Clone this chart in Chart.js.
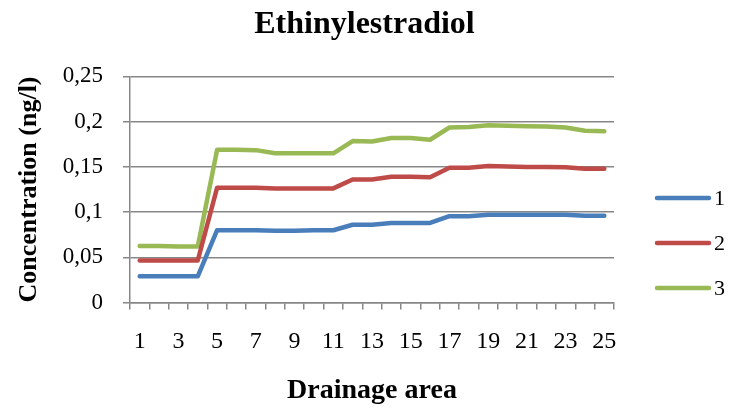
<!DOCTYPE html>
<html>
<head>
<meta charset="utf-8">
<script src="https://cdn.jsdelivr.net/npm/chart.js@4"></script>
<style>
  html, body { margin: 0; padding: 0; background: #fff; }
  #wrap { width: 729px; height: 408px; }
</style>
</head>
<body>
<div id="wrap"><canvas id="eeChart"></canvas></div>
<script>
// drainage areas 1..25
const areas = ['1','2','3','4','5','6','7','8','9','10','11','12','13','14','15','16','17','18','19','20','21','22','23','24','25'];

const series1 = [0.029, 0.029, 0.029, 0.029, 0.080, 0.080, 0.080, 0.0795, 0.0795, 0.080, 0.080, 0.086, 0.086, 0.088, 0.088, 0.088, 0.0955, 0.0955, 0.097, 0.097, 0.097, 0.097, 0.097, 0.096, 0.096];
const series2 = [0.0465, 0.0465, 0.0465, 0.0465, 0.127, 0.127, 0.127, 0.126, 0.126, 0.1262, 0.1262, 0.136, 0.136, 0.139, 0.139, 0.1385, 0.149, 0.149, 0.151, 0.1505, 0.150, 0.150, 0.1495, 0.148, 0.148];
const series3 = [0.0625, 0.0625, 0.062, 0.062, 0.169, 0.169, 0.1685, 0.165, 0.165, 0.165, 0.165, 0.1785, 0.178, 0.182, 0.182, 0.180, 0.1935, 0.194, 0.196, 0.1955, 0.195, 0.1945, 0.1935, 0.190, 0.1895];

const yTicks = ['0', '0,05', '0,1', '0,15', '0,2', '0,25'];

const serif = '"Liberation Serif", "Times New Roman", serif';
const gridGray = '#878787';

// Excel-style legend to the right of the plot: line sample + label
const sideLegend = {
    id: 'sideLegend',
    afterDraw(chart) {
        const c = chart.ctx;
        c.save();
        chart.data.datasets.forEach((ds, i) => {
            const y = 198 + i * 45;
            c.strokeStyle = ds.borderColor;
            c.lineWidth = 4.5;
            c.lineCap = 'round';
            c.beginPath();
            c.moveTo(657, y);
            c.lineTo(709, y);
            c.stroke();
            c.fillStyle = '#000';
            c.font = '22px ' + serif;
            c.textBaseline = 'middle';
            c.fillText(ds.label, 714, y + 1);
        });
        c.restore();
    }
};

const ctx = document.getElementById('eeChart').getContext('2d');
new Chart(ctx, {
    type: 'line',
    data: {
        labels: areas,
        datasets: [
            { label: '1', data: series1, borderColor: '#4a7ebb', backgroundColor: '#4a7ebb' },
            { label: '2', data: series2, borderColor: '#be4b48', backgroundColor: '#be4b48' },
            { label: '3', data: series3, borderColor: '#98b954', backgroundColor: '#98b954' }
        ]
    },
    options: {
        responsive: true,
        maintainAspectRatio: false,
        animation: false,
        elements: {
            line: { borderWidth: 4.5, tension: 0, borderCapStyle: 'round', borderJoinStyle: 'round' },
            point: { radius: 0 }
        },
        layout: { padding: 0 },
        plugins: {
            title: {
                display: true,
                text: 'Ethinylestradiol',
                color: '#000',
                font: { family: serif, size: 32, weight: 'bold' },
                padding: { top: 6, bottom: 32 }
            },
            legend: { display: false },
            tooltip: { enabled: false }
        },
        scales: {
            x: {
                offset: true,
                grid: {
                    offset: true,
                    drawOnChartArea: false,
                    drawTicks: true,
                    tickLength: 7,
                    color: gridGray,
                    lineWidth: 1.5
                },
                border: { color: gridGray, width: 1.5 },
                ticks: {
                    autoSkip: false,
                    maxRotation: 0,
                    color: '#000',
                    font: { family: serif, size: 24 },
                    padding: 18,
                    callback: function (val, i) { return i % 2 === 0 ? areas[i] : ''; }
                },
                title: {
                    display: true,
                    text: 'Drainage area',
                    color: '#000',
                    font: { family: serif, size: 28, weight: 'bold' },
                    padding: { top: 0, bottom: 0 }
                }
            },
            y: {
                min: 0,
                max: 0.25,
                grid: {
                    color: gridGray,
                    lineWidth: 1.5,
                    tickLength: 7
                },
                border: { color: gridGray, width: 1.5 },
                ticks: {
                    stepSize: 0.05,
                    color: '#000',
                    font: { family: serif, size: 23 },
                    padding: 20,
                    callback: function (val, i) { return yTicks[i]; }
                },
                title: {
                    display: true,
                    text: 'Concentration (ng/l)',
                    color: '#000',
                    font: { family: serif, size: 26, weight: 'bold' },
                    padding: { top: 14, bottom: 0 }
                },
                afterFit: function (scale) { scale.width = 130; }
            },
            // empty right-hand axis that only reserves room for the legend
            side: {
                position: 'right',
                display: true,
                grid: { drawOnChartArea: false, drawTicks: false },
                border: { display: false },
                ticks: { display: false },
                afterFit: function (scale) { scale.width = 115; }
            }
        }
    },
    plugins: [sideLegend]
});
</script>
</body>
</html>
